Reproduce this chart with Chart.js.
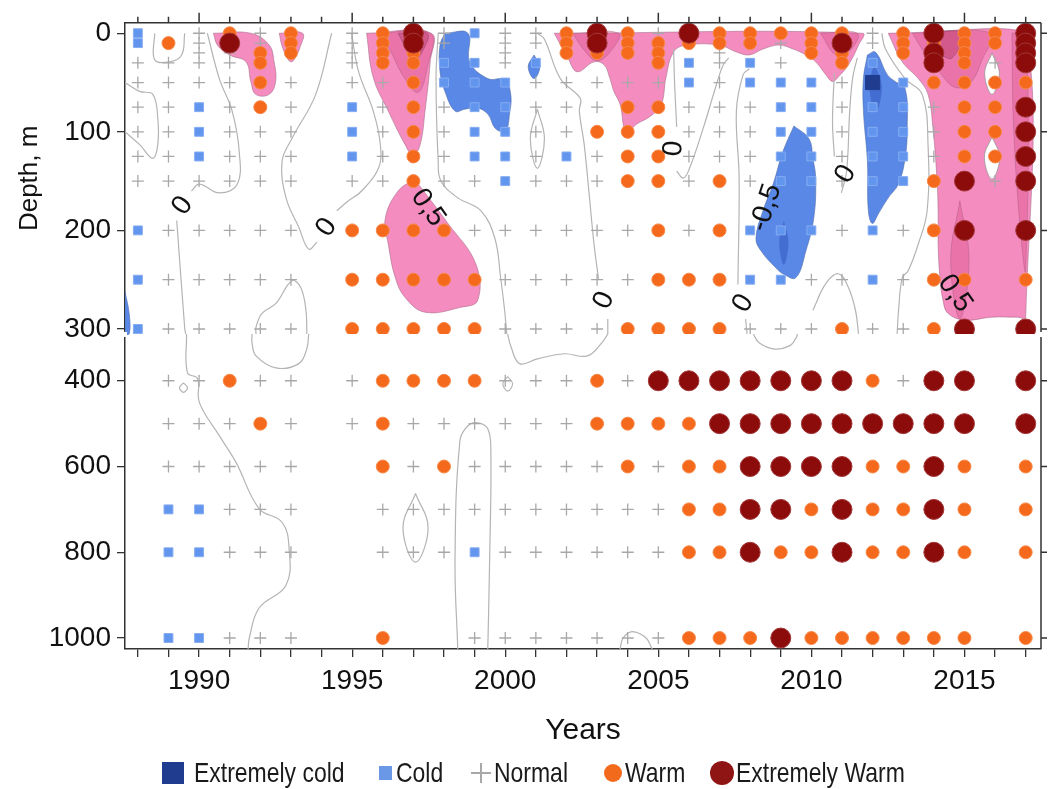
<!DOCTYPE html>
<html>
<head>
<meta charset="utf-8">
<script src="https://cdn.jsdelivr.net/npm/chart.js@4.4.1/dist/chart.umd.min.js"></script>
<style>
  body { margin: 0; background: #fff; }
  #wrap { position: relative; width: 1052px; height: 789px; }
  #legend { position: absolute; left: 0; top: 0; width: 1052px; height: 789px; pointer-events: none;
            font-family: "Liberation Sans", Arial, sans-serif; font-size: 28px; color: #1a1a1a; }
  .sym { position: absolute; }
  .txt { position: absolute; top: 756px; height: 34px; line-height: 34px; white-space: nowrap;
         transform: scaleX(0.82); transform-origin: left center; }
</style>
</head>
<body>
<div id="wrap">
  <canvas id="myChart" width="1052" height="789"></canvas>
  <div id="legend">
    <div class="sym" style="left:162px;top:762px;width:22px;height:22px;background:#1f3c8f"></div>
    <div class="txt" style="left:194px">Extremely cold</div>
    <div class="sym" style="left:379px;top:766px;width:13px;height:14px;background:#6a98e6"></div>
    <div class="txt" style="left:396px">Cold</div>
    <div class="sym" style="left:471px;top:772px;width:20px;height:1.5px;background:#a8a8a8"></div>
    <div class="sym" style="left:480px;top:763px;width:1.5px;height:20px;background:#a8a8a8"></div>
    <div class="txt" style="left:494px">Normal</div>
    <div class="sym" style="left:604px;top:764px;width:18px;height:18px;border-radius:50%;background:#f26a1c"></div>
    <div class="txt" style="left:625px">Warm</div>
    <div class="sym" style="left:710px;top:761px;width:24px;height:24px;border-radius:50%;background:#8f1414"></div>
    <div class="txt" style="left:736px">Extremely Warm</div>
  </div>
</div>
<script>
'use strict';

// ---- data ----
let years = [1988, 1989, 1990, 1991, 1992, 1993, 1994, 1995, 1996, 1997,
             1998, 1999, 2000, 2001, 2002, 2003, 2004, 2005, 2006, 2007,
             2008, 2009, 2010, 2011, 2012, 2013, 2014, 2015, 2016, 2017];
let depths = [0, 10, 20, 30, 50, 75, 100, 125, 150, 200, 250, 300, 400, 500, 600, 700, 800, 1000];

// one string per depth, one letter per year
// x = extremely cold, c = cold, n = normal, w = warm, e = extremely warm, . = no data
let classRows = [
  'c.nwnw.nwe' + 'ncnnwewnew' + 'wwwwnwewwe',   // 0
  'cwnenw.nwe' + 'n.nnwewwww' + 'wnwenwwwwe',   // 10
  '..nnww.nww' + '..n.wwww.n' + '..ww.wew.e',   // 20
  'nnnnw..nww' + 'ccnc...wcn' + 'cn.wc.ewne',   // 30
  'nnnnwn.nnw' + 'cccnnnnncn' + 'cccnxcwwww',   // 50
  'nncnwn.cnw' + 'nccnnnwwnn' + 'nccnccnwwe',   // 75
  'nncnnn.cnw' + 'nccnnwwwnn' + 'nccnccnwwe',   // 100
  'nncnnn.cnw' + 'nccncnwwnn' + 'nccnccnwwe',   // 125
  'nnnnnn.nnw' + 'nncnnnwwnw' + 'nccnccwene',   // 150
  'cnnnnn.www' + 'wnnnnnnwnw' + 'cccncnwe.e',   // 200
  'cnnnnn.www' + 'wwnnnnnwww' + 'ccnncnww.w',   // 250
  'cnnnnn.www' + 'wwnnnnwwww' + 'nnnwnnwe.e',   // 300
  '.nnwnn.nww' + 'wwnnnwneee' + 'eeeewnee.e',   // 400
  '.nnnwn.nwn' + 'nnnnnwwwwe' + 'eeeeeeee.e',   // 500
  '.nnnnn..wn' + 'wnnnnnwnww' + 'eeeewwew.w',   // 600
  '.ccnnn..nn' + 'nnnnnnnnww' + 'eewewwew.w',   // 700
  '.ccnnn..nn' + 'ncnnnnnnww' + 'ewwewwew.w',   // 800
  '.ccnnn..w.' + '.nnnnnnnww' + 'wewwwwww.w'    // 1000
];
let classCodes = ['x', 'c', 'n', 'w', 'e'];
let classNames = ['Extremely cold', 'Cold', 'Normal', 'Warm', 'Extremely Warm'];

let yearLabels = [1990, 1995, 2000, 2005, 2010, 2015];
let topDepthTicks = [0, 100, 200, 300];
let lowDepthTicks = [400, 600, 800, 1000];
let breakDepth = 300;

// contour areas, [year, depth]
let pinkAreas = [
  [[1990.47,0],[1991.69,0],[1992.29,12],[1992.45,29],[1992.5,49],[1992.29,62],[1991.85,62],[1991.69,49],[1991.53,29],[1990.99,22],[1990.6,12],[1990.47,0]],
  [[1992.62,0],[1993.38,0],[1993.3,14],[1993.12,26],[1993.0,29],[1992.86,24],[1992.7,12],[1992.62,0]],
  [[1995.47,0],[1997.58,0],[1997.55,29],[1997.38,79],[1997.22,113],[1996.99,124],[1996.73,113],[1996.18,79],[1995.69,45],[1995.47,0]],
  [[1997.04,148],[1998.13,193],[1999.04,234],[1999.1,271],[1998.55,278],[1997.38,283],[1996.73,268],[1996.41,248],[1996.18,214],[1996.08,188],[1996.5,160],[1997.04,148]],
  [[2001.6,0],[2011.67,0],[2011.54,12],[2011.21,32],[2010.89,44],[2010.69,49],[2010.47,42],[2010.14,29],[2009.82,22],[2009.4,16],[2008.94,12],[2008.42,16],[2007.97,22],[2007.55,19],[2006.99,12],[2005.92,12],[2005.5,19],[2005.25,45],[2005.1,72],[2004.75,84],[2004.3,92],[2003.95,100],[2003.75,72],[2003.55,59],[2003.42,46],[2003.23,32],[2002.9,29],[2002.35,39],[2002.03,24],[2001.6,0]],
  [[2012.51,0],[2017.0,0],[2017.0,288],[2016.73,288],[2015.89,288],[2015.01,291],[2014.46,284],[2014.3,271],[2014.2,248],[2014.14,214],[2014.14,180],[2014.1,147],[2013.97,96],[2013.81,62],[2013.49,46],[2012.97,29],[2012.51,0]]
];
let pinkHoles = [
  [[2015.9,20],[2016.14,41],[2015.9,62],[2015.66,41],[2015.9,20]],
  [[2015.9,105],[2016.15,126],[2015.9,148],[2015.65,126],[2015.9,105]]
];
let pinkDeep = [
  [[1995.9,0],[1997.55,0],[1997.45,35],[1997.15,60],[1996.7,45],[1996.2,15],[1995.9,0]],
  [[2002.2,0],[2003.7,0],[2003.45,18],[2003.0,28],[2002.6,18],[2002.2,0]],
  [[2010.3,0],[2011.5,0],[2011.25,18],[2010.8,22],[2010.3,0]],
  [[2013.3,0],[2015.9,0],[2015.6,25],[2015.2,50],[2014.7,55],[2014.2,40],[2013.7,20],[2013.3,0]],
  [[2016.55,0],[2017.0,0],[2017.0,240],[2016.8,190],[2016.6,90],[2016.55,0]],
  [[2014.85,170],[2015.15,230],[2014.85,290],[2014.55,230],[2014.85,170]]
];
let pinkDarkest = [
  [[1996.5,0],[1997.45,0],[1997.3,18],[1997.0,28],[1996.75,15],[1996.5,0]],
  [[2013.7,0],[2014.9,0],[2014.6,25],[2014.2,20],[2013.7,0]]
];
let blueAreas = [
  [[1998.03,0],[1998.78,0],[1998.84,29],[1999.43,46],[1999.98,47],[2000.18,62],[2000.14,82],[2000.01,99],[1999.69,97],[1999.43,82],[1999.1,76],[1998.68,77],[1998.36,79],[1998.03,59],[1997.87,39],[1997.87,12],[1998.03,0]],
  [[2000.94,22],[2001.13,34],[2000.94,46],[2000.75,34],[2000.94,22]],
  [[2009.43,94],[2009.92,107],[2010.05,127],[2010.14,147],[2010.08,187],[2009.82,221],[2009.49,248],[2009.07,244],[2008.84,238],[2008.36,221],[2008.19,208],[2008.42,180],[2008.75,153],[2009.07,120],[2009.43,94]],
  [[2011.83,22],[2012.09,19],[2012.48,42],[2012.74,49],[2013.06,56],[2013.13,96],[2013.06,127],[2012.84,153],[2012.51,167],[2012.19,183],[2011.99,193],[2011.86,180],[2011.83,130],[2011.7,79],[2011.7,46],[2011.83,22]],
  [[1987.58,262],[1987.72,285],[1987.72,305],[1987.58,305],[1987.58,262]]
];
let blueDeep = [
  [[2012.05,30],[2012.3,55],[2012.1,80],[2011.9,55],[2012.05,30]],
  [[2009.1,190],[2009.25,212],[2009.1,235],[2008.95,212],[2009.1,190]]
];

// zero contours, upper panel and lower panel
let contourTop = [
  [[1987.58,50],[1988.06,59],[1988.49,62],[1988.65,86],[1988.65,113],[1988.49,127],[1988.06,113],[1987.58,100]],
  [[1988.55,0],[1988.55,27],[1989.04,29],[1989.43,22],[1989.53,0]],
  [[1990.27,0],[1990.66,46],[1991.08,79],[1991.31,120],[1991.25,153],[1990.66,162],[1990.01,153],[1989.75,160]],
  [[1989.27,190],[1989.53,299],[1989.56,305]],
  [[1994.33,0],[1993.81,62],[1993.03,107],[1992.71,130],[1992.84,167],[1993.26,197],[1993.58,219],[1993.85,212]],
  [[1994.5,180],[1994.88,170],[1995.31,160],[1995.86,137],[1995.92,113],[1995.69,79],[1995.21,39],[1994.98,0]],
  [[1991.86,305],[1991.86,298],[1992.06,284],[1992.51,274],[1993.03,251],[1993.32,258],[1993.49,281],[1993.52,305]],
  [[1997.81,0],[1997.74,46],[1997.81,130],[1997.9,150],[1998.45,167],[1999.2,180],[1999.66,208],[1999.85,248],[1999.98,281],[2000.05,305]],
  [[2001.05,77],[2001.28,107],[2001.05,137],[2000.82,107],[2001.05,77]],
  [[2001.05,0],[2001.28,6],[2001.8,46],[2002.45,66],[2002.42,79],[2002.58,113],[2002.74,163],[2002.9,214],[2003.05,250]],
  [[2003.35,290],[2003.35,305]],
  [[2005.5,16],[2005.53,49],[2005.6,95]],
  [[2005.6,140],[2005.82,147],[2006.02,137],[2006.47,96],[2006.9,52],[2007.12,32],[2007.3,25]],
  [[2007.97,36],[2007.77,42],[2007.55,79],[2007.64,147],[2007.6,255]],
  [[2007.85,290],[2007.9,305]],
  [[2010.75,40],[2010.69,89],[2010.75,125]],
  [[2010.98,162],[2011.15,140],[2011.25,80],[2011.35,45],[2011.5,25]],
  [[2012.3,0],[2012.42,16],[2013.06,46],[2013.62,62],[2013.81,113],[2013.78,180],[2013.49,214],[2013.16,241],[2012.97,248],[2012.85,280],[2012.8,305]],
  [[2010.05,281],[2010.47,254],[2010.89,244],[2011.21,258],[2011.44,281],[2011.54,305]]
];
let contourLow = [
  [[1989.59,291],[1989.62,381],[1989.95,395],[1990.01,451],[1990.66,528],[1991.21,591],[1991.96,698],[1992.71,730],[1992.94,791],[1992.84,877],[1991.96,930],[1991.64,1000],[1991.6,1026]],
  [[1991.73,291],[1991.73,312],[1991.86,342],[1992.51,370],[1993.26,360],[1993.52,325],[1993.58,291]],
  [[1989.49,405],[1989.62,416],[1989.49,427],[1989.36,416],[1989.49,405]],
  [[2000.08,291],[2000.18,319],[2000.47,360],[2001.05,349],[2001.93,337],[2002.68,342],[2003.16,311],[2003.35,291]],
  [[2000.08,390],[2000.24,407],[2000.08,424],[1999.92,407],[2000.08,390]],
  [[1997.07,663],[1997.48,743],[1997.07,823],[1996.66,743],[1997.07,663]],
  [[1998.45,1026],[1998.36,819],[1998.52,540],[1998.78,505],[1999.1,498],[1999.43,512],[1999.53,563],[1999.49,819],[1999.43,1026]],
  [[2003.75,1026],[2003.85,1000],[2004.15,985],[2004.6,1000],[2004.8,1026]],
  [[2008.1,291],[2008.3,312],[2008.8,326],[2009.3,318],[2009.5,300],[2009.55,291]]
];

let contourLabels = [
  {text: '0', x: 1989.46, y: 175, angle: -55},
  {text: '0', x: 1994.17, y: 197, angle: -55},
  {text: '0,5', x: 1997.48, y: 177, angle: 55},
  {text: '0', x: 2005.5, y: 117, angle: -85},
  {text: '0', x: 2003.23, y: 271, angle: -65},
  {text: '-0,5', x: 2008.52, y: 177, angle: -72},
  {text: '0', x: 2007.77, y: 274, angle: -60},
  {text: '0', x: 2011.12, y: 143, angle: -60},
  {text: '0,5', x: 2014.69, y: 264, angle: 55}
];

// ---- styles ----
let markStyle = {
  x: {shape: 'rect', radius: 10, fill: '#1f3c8f', edge: '#1f3c8f', order: 3},
  c: {shape: 'rect', radius: 6.3, fill: '#6295ee', edge: '#86acf2', order: 4},
  n: {shape: 'cross', radius: 6, fill: 'rgba(0,0,0,0)', edge: '#a8a8a8', order: 5},
  w: {shape: 'circle', radius: 6.5, fill: '#f4691b', edge: '#f7894a', order: 2},
  e: {shape: 'circle', radius: 10, fill: '#8c0c0c', edge: '#a23636', order: 1}
};

function toXY(list) {
  return list.map(p => ({x: p[0], y: p[1]}));
}

function marksFor(code, axis) {
  let pts = [];
  for (let r = 0; r < depths.length; r++) {
    let inTop = depths[r] <= breakDepth;
    if ((axis === 'yTop') !== inTop) continue;
    for (let i = 0; i < years.length; i++) {
      if (classRows[r][i] === code) pts.push({x: years[i], y: depths[r]});
    }
  }
  return pts;
}

function areaSet(list, color, edge, order) {
  return {
    label: '', data: toXY(list), yAxisID: 'yTop', showLine: true, fill: 'shape',
    backgroundColor: color, borderColor: edge, borderWidth: 1, pointRadius: 0,
    tension: 0.4, order: order
  };
}

function lineSet(list, axis) {
  return {
    label: '', data: toXY(list), yAxisID: axis, showLine: true, fill: false,
    borderColor: '#b4b4b4', borderWidth: 1.2, pointRadius: 0, tension: 0.4, order: 20
  };
}

let datasets = [];
pinkAreas.forEach(a => datasets.push(areaSet(a, '#f48cc0', 'rgba(170,110,140,0.6)', 40)));
blueAreas.forEach(a => datasets.push(areaSet(a, '#5a88e6', 'rgba(80,110,170,0.6)', 40)));
pinkHoles.forEach(a => datasets.push(areaSet(a, '#ffffff', 'rgba(150,150,150,0.8)', 39)));
pinkDeep.forEach(a => datasets.push(areaSet(a, 'rgba(214,72,130,0.35)', 'rgba(150,80,110,0.35)', 38)));
pinkDarkest.forEach(a => datasets.push(areaSet(a, 'rgba(170,40,90,0.35)', 'rgba(120,60,90,0.4)', 37)));
blueDeep.forEach(a => datasets.push(areaSet(a, 'rgba(30,60,170,0.35)', 'rgba(0,0,0,0)', 38)));
contourTop.forEach(l => datasets.push(lineSet(l, 'yTop')));
contourLow.forEach(l => datasets.push(lineSet(l, 'yBot')));

classCodes.forEach((code, k) => {
  let st = markStyle[code];
  ['yTop', 'yBot'].forEach(axis => {
    datasets.push({
      label: classNames[k], data: marksFor(code, axis), yAxisID: axis,
      pointStyle: st.shape, pointRadius: st.radius, pointBackgroundColor: st.fill,
      pointBorderColor: st.edge, pointBorderWidth: code === 'n' ? 1.3 : 1, order: st.order
    });
  });
});

// ---- frame, break and contour labels ----
let framePlugin = {
  id: 'frame',
  afterDatasetsDraw(chart) {
    let {ctx, scales} = chart;
    ctx.save();
    ctx.fillStyle = '#111';
    ctx.font = '28px "Liberation Sans", Arial, sans-serif';
    ctx.textAlign = 'center';
    ctx.textBaseline = 'middle';
    contourLabels.forEach(l => {
      ctx.save();
      ctx.translate(scales.x.getPixelForValue(l.x), scales.yTop.getPixelForValue(l.y));
      ctx.rotate(l.angle * Math.PI / 180);
      ctx.fillText(l.text, 0, 0);
      ctx.restore();
    });
    ctx.restore();
  },
  afterDraw(chart) {
    let {ctx, chartArea: a, scales} = chart;
    let gapTop = scales.yTop.bottom - 2;
    let gapBot = scales.yBot.top + 3;
    ctx.save();
    ctx.fillStyle = '#fff';
    ctx.fillRect(a.left - 2, gapTop, 4, gapBot - gapTop);
    ctx.strokeStyle = '#333';
    ctx.lineWidth = 1.5;
    ctx.beginPath();
    ctx.moveTo(a.left, a.top);
    ctx.lineTo(a.right, a.top);
    years.forEach(v => {
      let px = scales.x.getPixelForValue(v);
      ctx.moveTo(px, a.top);
      ctx.lineTo(px, a.top - (yearLabels.includes(v) ? 10 : 6));
    });
    ctx.moveTo(a.right, a.top);
    ctx.lineTo(a.right, gapTop);
    ctx.moveTo(a.right, gapBot);
    ctx.lineTo(a.right, a.bottom);
    topDepthTicks.forEach(v => {
      let py = scales.yTop.getPixelForValue(v);
      ctx.moveTo(a.right, py);
      ctx.lineTo(a.right + 6, py);
    });
    lowDepthTicks.forEach(v => {
      let py = scales.yBot.getPixelForValue(v);
      ctx.moveTo(a.right, py);
      ctx.lineTo(a.right + 6, py);
    });
    ctx.stroke();
    ctx.restore();
  }
};

let tickFont = {family: '"Liberation Sans", Arial, sans-serif', size: 28};
let axisGrid = {drawOnChartArea: false, drawTicks: true, tickLength: 8, color: '#333', lineWidth: 1.3};
let axisBorder = {display: true, color: '#333', width: 1.5};

let ctx = document.getElementById('myChart').getContext('2d');
let chart = new Chart(ctx, {
  type: 'scatter',
  data: {datasets: datasets},
  options: {
    responsive: false,
    animation: false,
    events: [],
    layout: {padding: {top: 21, right: 7, bottom: 38, left: 0}},
    plugins: {legend: {display: false}, tooltip: {enabled: false}},
    scales: {
      x: {
        type: 'linear', position: 'bottom', min: 1987.58, max: 2017.5,
        afterBuildTicks: s => { s.ticks = years.map(v => ({value: v})); },
        afterFit: s => { s.height = 102; },
        ticks: {
          autoSkip: false, maxRotation: 0, padding: 7, color: '#111', font: tickFont,
          callback: v => yearLabels.includes(v) ? String(v) : ''
        },
        grid: axisGrid, border: axisBorder,
        title: {display: true, text: 'Years', color: '#111', padding: {top: 0, bottom: 2},
                font: {family: '"Liberation Sans", Arial, sans-serif', size: 30}}
      },
      // the deep panel is listed first: Chart.js stacks it below the upper one
      yBot: {
        type: 'linear', position: 'left', stack: 'depth', stackWeight: 316, reverse: true,
        min: 290.7, max: 1025.6,
        afterBuildTicks: s => { s.ticks = lowDepthTicks.map(v => ({value: v})); },
        afterFit: s => { s.width = 125; },
        ticks: {padding: 6, color: '#111', font: tickFont, callback: v => String(v)},
        grid: axisGrid, border: axisBorder
      },
      yTop: {
        type: 'linear', position: 'left', stack: 'depth', stackWeight: 312, reverse: true,
        min: -10.6, max: 305,
        afterBuildTicks: s => { s.ticks = topDepthTicks.map(v => ({value: v})); },
        afterFit: s => { s.width = 125; },
        ticks: {padding: 6, color: '#111', font: tickFont, callback: v => String(v)},
        grid: axisGrid, border: axisBorder,
        title: {display: true, text: 'Depth, m', color: '#111', padding: {top: 14, bottom: 0},
                font: {family: '"Liberation Sans", Arial, sans-serif', size: 26}}
      }
    }
  },
  plugins: [framePlugin]
});
</script>
</body>
</html>
